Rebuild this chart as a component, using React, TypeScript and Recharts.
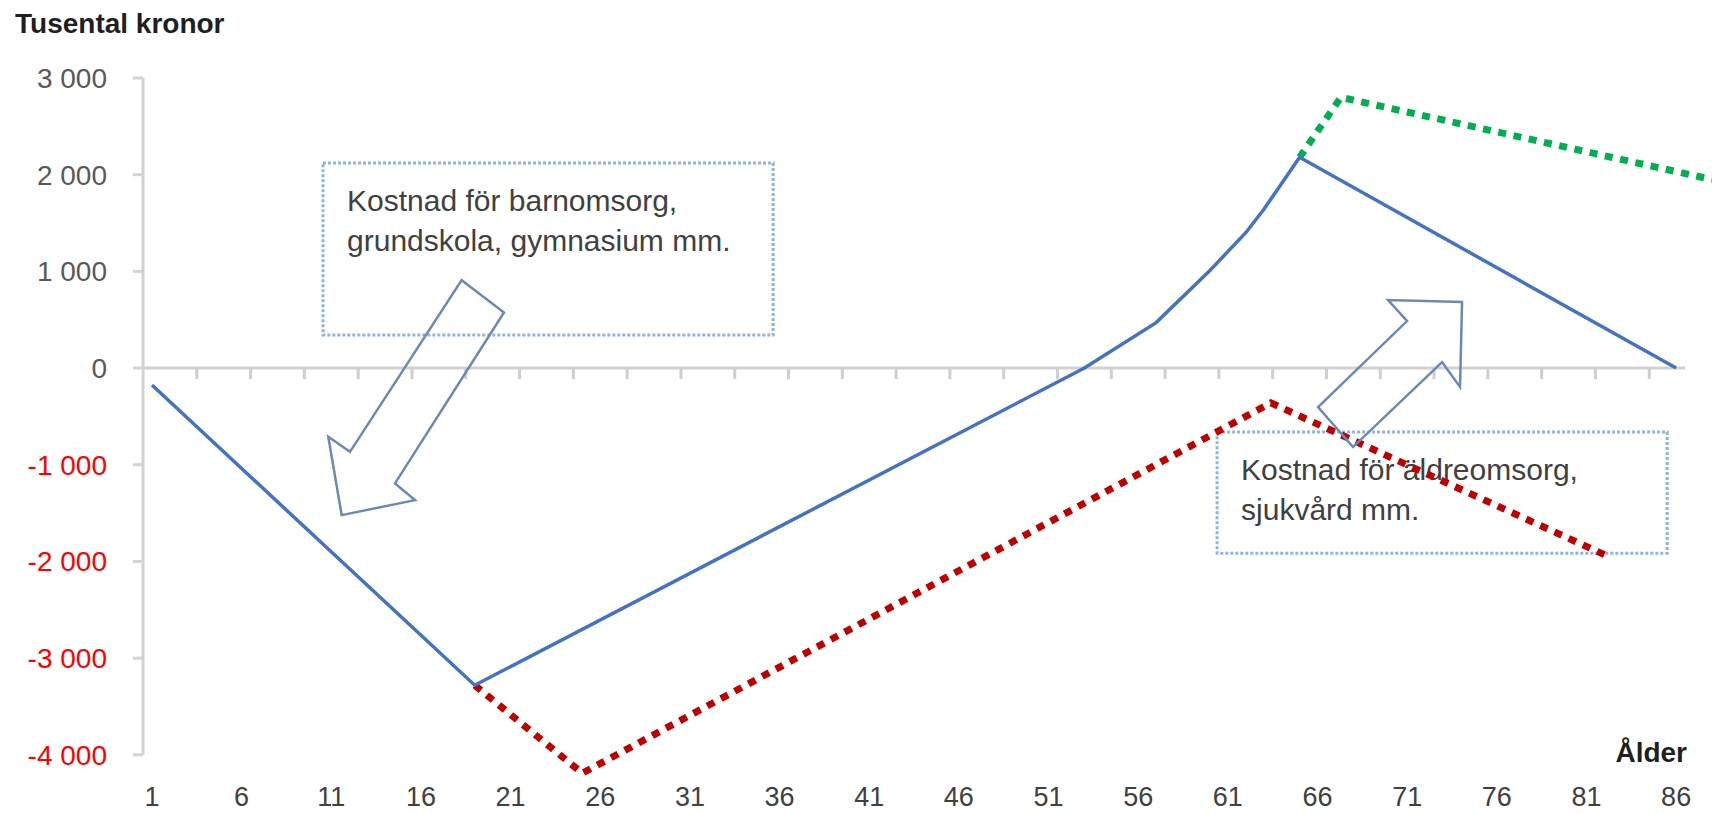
import React from 'react';
import {
  ComposedChart,
  Line,
  XAxis,
  YAxis,
  ReferenceLine,
  ReferenceArea,
  ReferenceDot,
  Scatter,
} from 'recharts';

// ---- data ----
const blueAges = [1, 19, 53, 57, 60, 62, 63, 64, 65, 86];
const blueValues = [-176, -3280, 0, 470, 1010, 1400, 1640, 1910, 2180, 0];

const redAges = [19, 25, 63.4, 82.3];
const redValues = [-3280, -4190, -360, -1955];

const greenAges = [65, 67.3, 88];
const greenValues = [2180, 2800, 1950];

const xTicks = [1, 6, 11, 16, 21, 26, 31, 36, 41, 46, 51, 56, 61, 66, 71, 76, 81, 86];
const yTicks = [-4000, -3000, -2000, -1000, 0, 1000, 2000, 3000];
const yTickLabels = ['-4 000', '-3 000', '-2 000', '-1 000', '0', '1 000', '2 000', '3 000'];
const axisTickBoundaries = [
  3.5, 6.5, 9.5, 12.5, 15.5, 18.5, 21.5, 24.5, 27.5, 30.5, 33.5, 36.5, 39.5, 42.5,
  45.5, 48.5, 51.5, 54.5, 57.5, 60.5, 63.5, 66.5, 69.5, 72.5, 75.5, 78.5, 81.5, 84.5,
];

const box1Lines = ['Kostnad för barnomsorg,', 'grundskola, gymnasium mm.'];
const box2Lines = ['Kostnad för äldreomsorg,', 'sjukvård mm.'];

const blueData = blueAges.map((age, i) => ({ age, v: blueValues[i] }));
const redData = redAges.map((age, i) => ({ age, v: redValues[i] }));
const greenData = greenAges.map((age, i) => ({ age, v: greenValues[i] }));
const tickData = axisTickBoundaries.map((age) => ({ age, v: 0 }));

const FONT = '"Liberation Sans", Arial, sans-serif';

const YTick = (props: any) => {
  const { x, y, payload } = props;
  const idx = yTicks.indexOf(payload.value);
  const neg = payload.value < 0;
  return (
    <text x={x} y={y} dy={10} textAnchor="end" fontFamily={FONT} fontSize={28} fill={neg ? '#FF0000' : '#595959'}>
      {yTickLabels[idx]}
    </text>
  );
};

const XTick = (props: any) => {
  const { x, y, payload } = props;
  return (
    <text x={x} y={y} dy={27} textAnchor="middle" fontFamily={FONT} fontSize={27} fill="#404040">
      {payload.value}
    </text>
  );
};

const boxLabel = (lines: string[]) => (props: any) => {
  const vb = props.viewBox || {};
  const x0 = (vb.x ?? 0) + 24;
  const y0 = (vb.y ?? 0) + 48;
  return (
    <text fontFamily={FONT} fontSize={30} fill="#404040">
      {lines.map((l, i) => (
        <tspan key={i} x={x0} y={y0 + i * 40}>
          {l}
        </tspan>
      ))}
    </text>
  );
};

const arrow1Pts = [
  [120, -235],
  [162.3, -202.7],
  [53.3, -31.7],
  [73.3, -15],
  [0, 0],
  [-13.4, -78.3],
  [8.3, -63.3],
];
const arrow2Pts = [
  [-144, 105],
  [-55, 19],
  [-74, -2],
  [0, 0],
  [-2, 85],
  [-20, 60],
  [-109, 145],
];

const arrowShape = (pts: number[][]) => (props: any) => {
  const { cx, cy } = props;
  const d = pts.map(([dx, dy]) => `${cx + dx},${cy + dy}`).join(' ');
  return <polygon points={d} fill="none" stroke="#6C88B6" strokeWidth={2.5} strokeLinejoin="miter" />;
};

const tickShape = (props: any) => {
  const { cx, cy } = props;
  return <line x1={cx} y1={cy} x2={cx} y2={cy + 11} stroke="#CFCFCF" strokeWidth={3} />;
};

export default function App() {
  return (
    <div style={{ position: 'absolute', left: 0, top: 0, width: 1712, height: 814, overflow: 'hidden', background: '#fff' }}>
      <ComposedChart width={1712} height={814} margin={{ top: 78, right: 0, bottom: 0, left: 0 }}>
        <XAxis
          dataKey="age"
          type="number"
          domain={[0.5, 88]}
          allowDataOverflow
          ticks={xTicks}
          interval={0}
          axisLine={false}
          tickLine={false}
          tickSize={0}
          tickMargin={0}
          height={35}
          tick={<XTick />}
        />
        <YAxis
          type="number"
          domain={[-4250, 3000]}
          allowDataOverflow
          ticks={yTicks}
          interval={0}
          width={143}
          axisLine={false}
          tickLine={{ stroke: '#D4D4D4', strokeWidth: 3 }}
          tickSize={10}
          tickMargin={26}
          tick={<YTick />}
        />
        <ReferenceArea
          x1={10.54}
          x2={35.64}
          y1={341}
          y2={2121}
          fill="none"
          stroke="#8EB4E3"
          strokeWidth={3}
          strokeDasharray="3 2"
          label={boxLabel(box1Lines)}
        />
        <ReferenceArea
          x1={60.4}
          x2={85.5}
          y1={-1914}
          y2={-662}
          fill="none"
          stroke="#8EB4E3"
          strokeWidth={3}
          strokeDasharray="3 2"
          label={boxLabel(box2Lines)}
        />
        <ReferenceLine
          segment={[
            { x: 0.5, y: 0 },
            { x: 86.5, y: 0 },
          ]}
          stroke="#D2D2D2"
          strokeWidth={3}
        />
        <ReferenceLine
          segment={[
            { x: 0.5, y: -4000 },
            { x: 0.5, y: 3000 },
          ]}
          stroke="#D2D2D2"
          strokeWidth={3}
        />
        <Scatter data={tickData} dataKey="v" shape={tickShape} isAnimationActive={false} />
        <Line
          data={greenData}
          dataKey="v"
          type="linear"
          stroke="#00B050"
          strokeWidth={7}
          strokeDasharray="8 7.6"
          dot={false}
          isAnimationActive={false}
        />
        <Line
          data={redData}
          dataKey="v"
          type="linear"
          stroke="#C00000"
          strokeWidth={7}
          strokeDasharray="8 7.6"
          dot={false}
          isAnimationActive={false}
        />
        <Line
          data={blueData}
          dataKey="v"
          type="linear"
          stroke="#4472C4"
          strokeWidth={3.5}
          dot={false}
          isAnimationActive={false}
        />
        <ReferenceDot x={11.58} y={-1521} r={1} shape={arrowShape(arrow1Pts)} />
        <ReferenceDot x={74.06} y={683} r={1} shape={arrowShape(arrow2Pts)} />
      </ComposedChart>
      <svg width={1712} height={814} style={{ position: 'absolute', left: 0, top: 0, pointerEvents: 'none' }}>
        <text x={15} y={33} fontFamily={FONT} fontSize={28} fontWeight="bold" fill="#1F1F1F">
          Tusental kronor
        </text>
        <text x={1687} y={762} textAnchor="end" fontFamily={FONT} fontSize={28} fontWeight="bold" fill="#1F1F1F">
          Ålder
        </text>
      </svg>
    </div>
  );
}
